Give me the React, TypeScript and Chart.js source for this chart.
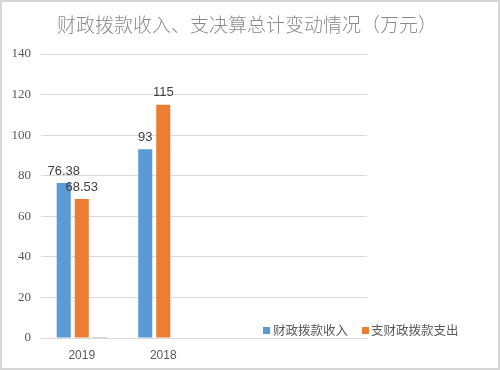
import React, { useEffect, useRef } from 'react';
import { Chart, registerables } from 'chart.js';

Chart.register(...registerables);

const categories = ['2019', '2018', '', ''];
const incomeValues = [76.38, 93, null, null];
const expenseValues = [68.53, 115, null, null];
const otherValues = [0.5, 0, null, null];
const incomeLabels = ['76.38', '93'];
const expenseLabels = ['68.53', '115'];
const seriesNames = ['财政拨款收入', '支财政拨款支出'];
const titleText = '财政拨款收入、支决算总计变动情况（万元）';
const yMin = 0;
const yMax = 140;
const yStep = 20;

const BLUE = '#5b9bd5';
const ORANGE = '#ed7d31';
const GRAY = '#a5a5a5';

const decorPlugin = {
  id: 'decor',
  beforeDraw(chart: any) {
    const ctx = chart.ctx;
    ctx.save();
    ctx.fillStyle = '#ffffff';
    ctx.fillRect(0, 0, chart.width, chart.height);
    ctx.strokeStyle = '#d6d6d6';
    ctx.lineWidth = 2;
    ctx.strokeRect(1, 1, chart.width - 2, chart.height - 2);
    ctx.restore();
  },
  afterDatasetsDraw(chart: any) {
    const ctx = chart.ctx;
    ctx.save();
    ctx.font = '13px "Liberation Sans", Arial, sans-serif';
    ctx.fillStyle = '#404040';
    ctx.textAlign = 'center';
    ctx.textBaseline = 'middle';
    const sets = [incomeLabels, expenseLabels];
    sets.forEach((labels, di) => {
      const meta = chart.getDatasetMeta(di);
      labels.forEach((txt, i) => {
        const el = meta.data[i];
        if (!el) return;
        ctx.fillText(txt, el.x, el.y - 12);
      });
    });
    ctx.restore();
  },
  afterDraw(chart: any) {
    const ctx = chart.ctx;
    ctx.save();
    // title
    ctx.font = '300 19px "Noto Sans CJK SC", sans-serif';
    ctx.fillStyle = '#8a8a8a';
    ctx.textAlign = 'center';
    ctx.textBaseline = 'middle';
    ctx.fillText(titleText, 247, 25);
    // legend
    ctx.font = '12.5px "Noto Sans CJK SC", sans-serif';
    ctx.textAlign = 'left';
    ctx.fillStyle = BLUE;
    ctx.fillRect(263, 327, 7, 7);
    ctx.fillStyle = ORANGE;
    ctx.fillRect(362, 327, 7, 7);
    ctx.fillStyle = '#595959';
    ctx.fillText(seriesNames[0], 273, 330);
    ctx.fillText(seriesNames[1], 371, 330);
    ctx.restore();
  },
};

export default function App() {
  const ref = useRef<HTMLCanvasElement | null>(null);

  useEffect(() => {
    if (!ref.current) return;
    const chart = new Chart(ref.current, {
      type: 'bar',
      data: {
        labels: categories,
        datasets: [
          { label: seriesNames[0], data: incomeValues as any, backgroundColor: BLUE },
          { label: seriesNames[1], data: expenseValues as any, backgroundColor: ORANGE },
          { label: '', data: otherValues as any, backgroundColor: GRAY },
        ],
      },
      options: {
        animation: false,
        responsive: false,
        maintainAspectRatio: false,
        devicePixelRatio: 1,
        layout: { padding: { top: 54, right: 133, left: 0, bottom: 0 } },
        datasets: {
          bar: { categoryPercentage: 0.663, barPercentage: 0.78 },
        },
        plugins: {
          legend: { display: false },
          title: { display: false },
          tooltip: { enabled: false },
        },
        scales: {
          x: {
            grid: { display: false, drawTicks: false },
            border: { display: true, color: '#d9d9d9', width: 1 },
            ticks: {
              color: '#595959',
              font: { family: '"Liberation Sans", Arial, sans-serif', size: 12 },
              padding: 10,
            },
            afterFit(scale: any) {
              scale.height = 32;
            },
          },
          y: {
            min: yMin,
            max: yMax,
            grid: { color: '#d9d9d9', drawTicks: false },
            border: { display: false },
            ticks: {
              stepSize: yStep,
              color: '#595959',
              font: { family: '"Liberation Serif", serif', size: 13 },
              padding: 10,
            },
            afterFit(scale: any) {
              scale.width = 41;
            },
          },
        },
      },
      plugins: [decorPlugin],
    });
    return () => chart.destroy();
  }, []);

  return (
    <div style={{ position: 'fixed', left: 0, top: 0, width: 500, height: 370 }}>
      <canvas ref={ref} width={500} height={370} style={{ width: 500, height: 370 }} />
    </div>
  );
}
